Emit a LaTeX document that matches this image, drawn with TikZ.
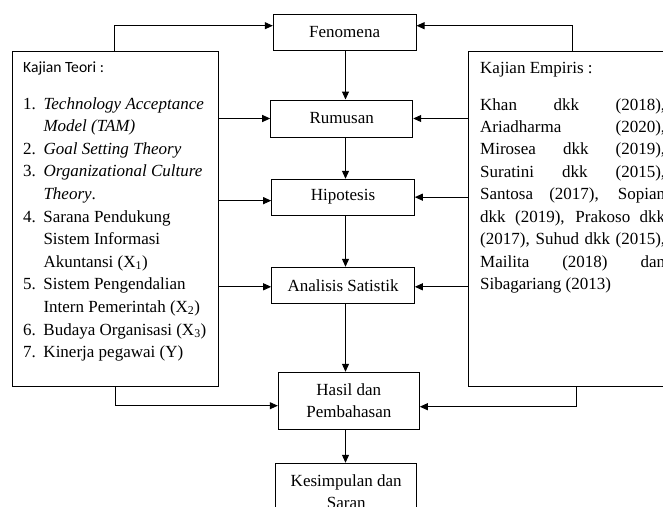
\documentclass[tikz,border=0pt]{standalone}
\usepackage{fontspec}
\setmainfont{Liberation Serif}
\newfontfamily\calibrifont{Carlito}
\usetikzlibrary{arrows.meta,calc}
\begin{document}
\begin{tikzpicture}[x=1pt,y=-1pt,
  box/.style={draw, line width=1pt, inner sep=0pt, align=center,
    font=\fontsize{17}{22.6}\selectfont},
  conn/.style={line width=1pt, -{Triangle[length=8pt,width=7pt]}},
  txt/.style={inner sep=0pt, font=\fontsize{17}{22.6}\selectfont}]
\useasboundingbox (0,0) rectangle (663,506);
\clip (0,0) rectangle (663,506);

% centre column
\node[box, minimum width=142.7pt, minimum height=36.7pt] (fen) at (344.65,32.35) {Fenomena};
\node[box, minimum width=142pt, minimum height=37pt] (rum) at (341.7,118.5) {Rumusan};
\node[box, minimum width=142.6pt, minimum height=35.7pt] (hip) at (343,197.15) {Hipotesis};
\node[box, minimum width=142.6pt, minimum height=36pt] (ana) at (343,285.3) {Analisis Satistik};
\node[box, minimum width=141pt, minimum height=57pt] (has) at (348.8,400.8) {Hasil dan\\Pembahasan};
\node[box, minimum width=141pt, minimum height=56.7pt] (kes) at (346.2,491.65) {Kesimpulan dan\\Saran};

% side boxes
\node[draw, line width=1pt, minimum width=206.3pt, minimum height=335pt] (teori) at (115.15,218.5) {};
\node[draw, line width=1pt, minimum width=231.7pt, minimum height=335pt] (emp) at (584.15,218.5) {};

% left text
\node[anchor=base west, inner sep=0pt, font=\calibrifont\fontsize{15.6}{19}\selectfont] (teorihead) at (23,72.3) {Kajian Teori :};
\node[txt, anchor=base west] (teorilist) at (23,109) {\vtop{\baselineskip=22.6pt\lineskiplimit=-30pt
\hbox{\makebox[20.3pt][l]{1.}\textit{Technology Acceptance}}
\hbox{\hspace{20.3pt}\textit{Model (TAM)}}
\hbox{\makebox[20.3pt][l]{2.}\textit{Goal Setting Theory}}
\hbox{\makebox[20.3pt][l]{3.}\textit{Organizational Culture}}
\hbox{\hspace{20.3pt}\textit{Theory}.}
\hbox{\makebox[20.3pt][l]{4.}Sarana Pendukung}
\hbox{\hspace{20.3pt}Sistem Informasi}
\hbox{\hspace{20.3pt}Akuntansi (X\textsubscript{1})}
\hbox{\makebox[20.3pt][l]{5.}Sistem Pengendalian}
\hbox{\hspace{20.3pt}Intern Pemerintah (X\textsubscript{2})}
\hbox{\makebox[20.3pt][l]{6.}Budaya Organisasi (X\textsubscript{3})}
\hbox{\makebox[20.3pt][l]{7.}Kinerja pegawai (Y)}}};

% right text
\node[txt, anchor=base west] (emphead) at (480,73.3) {Kajian Empiris :};
\node[txt, anchor=base west] (emplist) at (480,110) {\vtop{\baselineskip=22.45pt\lineskiplimit=-30pt\hbadness=10000
\hbox to 185pt{Khan dkk (2018),}
\hbox to 185pt{Ariadharma (2020),}
\hbox to 185pt{Mirosea dkk (2019),}
\hbox to 185pt{Suratini dkk (2015),}
\hbox to 185pt{Santosa (2017), Sopian}
\hbox to 185pt{dkk (2019), Prakoso dkk}
\hbox to 185pt{(2017), Suhud dkk (2015),}
\hbox to 185pt{Mailita (2018) dan}
\hbox{Sibagariang (2013)}}};

% vertical flow
\coordinate (axis) at (345.5,0);
\draw[conn] (fen.south -| axis) -- (rum.north -| axis);
\draw[conn] (rum.south -| axis) -- (hip.north -| axis);
\draw[conn] (hip.south -| axis) -- (ana.north -| axis);
\draw[conn] (ana.south -| axis) -- (has.north -| axis);
\draw[conn] (has.south -| axis) -- (kes.north -| axis);

% left inputs
\draw[conn] (teori.east |- rum.west) -- (rum.west);
\draw[conn] (teori.east |- {$(hip.west)+(0,3.5)$}) -- ($(hip.west)+(0,3.5)$);
\draw[conn] (teori.east |- {$(ana.west)+(0,1.5)$}) -- ($(ana.west)+(0,1.5)$);
% right inputs
\draw[conn] (emp.west |- rum.east) -- (rum.east);
\draw[conn] (emp.west |- hip.east) -- (hip.east);
\draw[conn] (emp.west |- {$(ana.east)+(0,1.5)$}) -- ($(ana.east)+(0,1.5)$);

% top loops
\coordinate (tl) at (114.3,25.7);
\coordinate (tr) at (572,25.7);
\draw[conn] (teori.north -| tl) -- (tl) -- (fen.west |- tl);
\draw[conn] (emp.north -| tr) -- (tr) -- (fen.east |- tr);
% bottom loops
\coordinate (bl) at (115.3,405.7);
\coordinate (br) at (576.3,406.7);
\draw[conn] (teori.south -| bl) -- (bl) -- (has.west |- bl);
\draw[conn] (emp.south -| br) -- (br) -- (has.east |- br);
\end{tikzpicture}
\end{document}
